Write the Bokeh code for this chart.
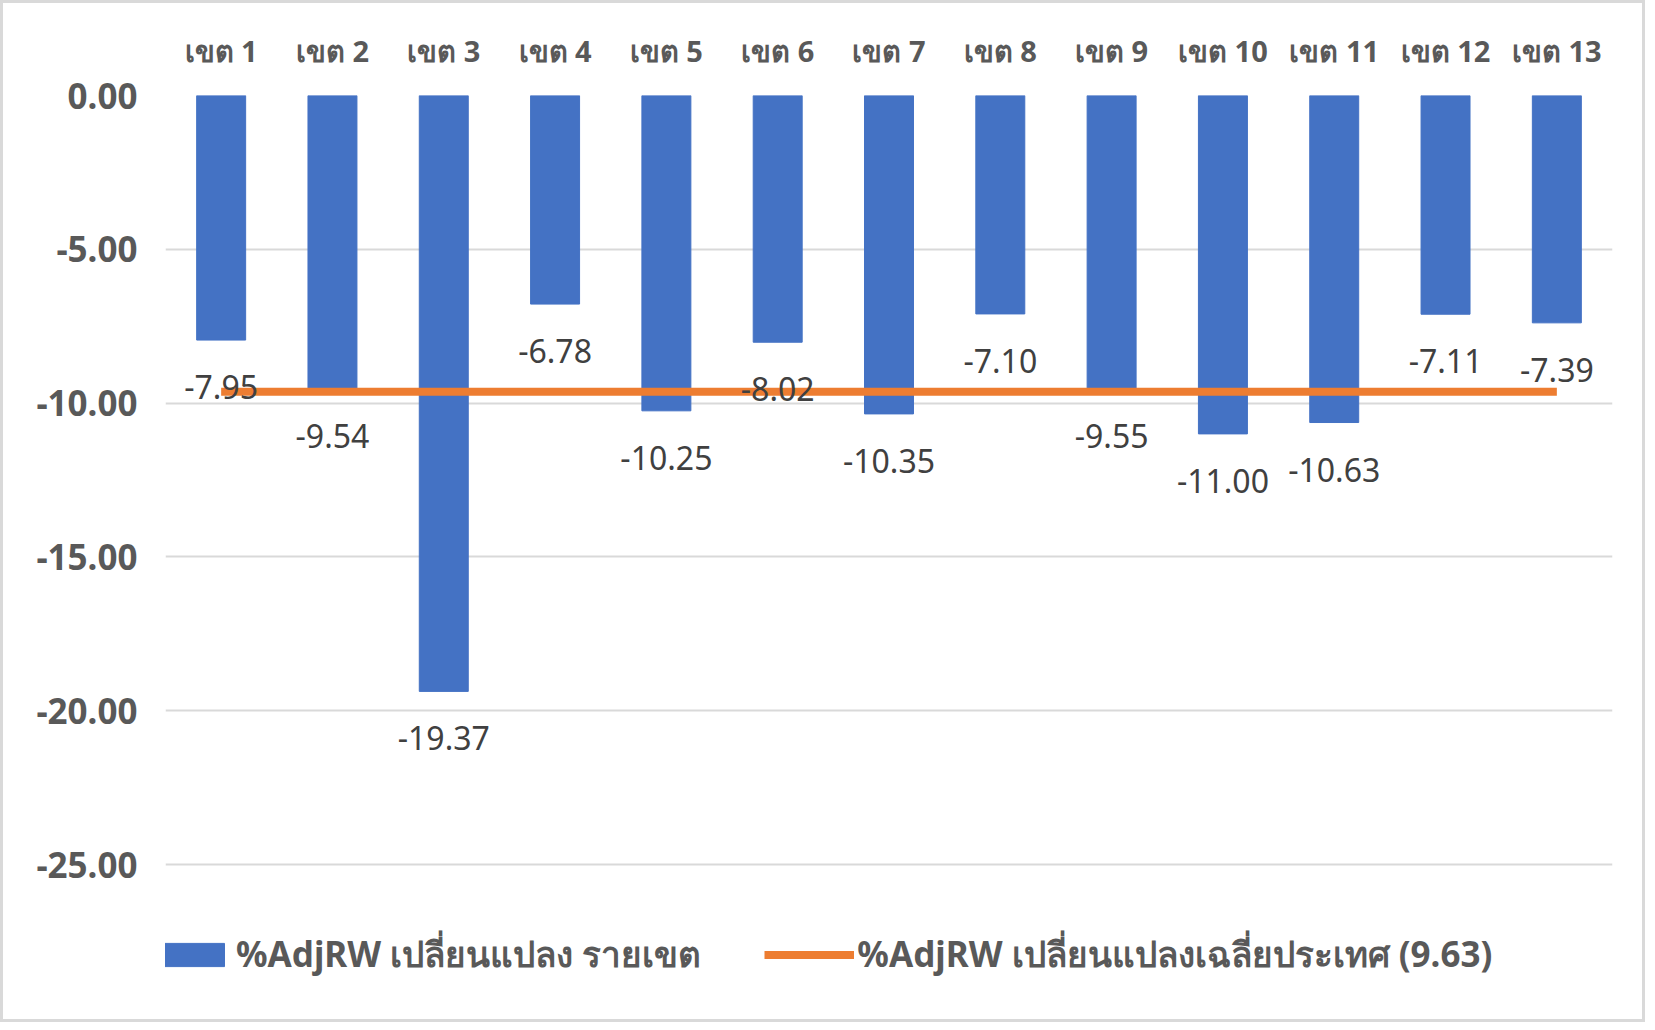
from bokeh.plotting import figure
from bokeh.models import ColumnDataSource, Legend, LegendItem, FactorRange, Range1d, NumeralTickFormatter, FixedTicker
from bokeh.embed import file_html
from bokeh.resources import INLINE
from bokeh.core.properties import value

categories = ["เขต 1", "เขต 2", "เขต 3", "เขต 4", "เขต 5", "เขต 6", "เขต 7",
              "เขต 8", "เขต 9", "เขต 10", "เขต 11", "เขต 12", "เขต 13"]
change_values = [-7.95, -9.54, -19.37, -6.78, -10.25, -8.02, -10.35,
                 -7.10, -9.55, -11.00, -10.63, -7.11, -7.39]
national_avg = [-9.63, -9.63, -9.63, -9.63, -9.63, -9.63, -9.63,
                -9.63, -9.63, -9.63, -9.63, -9.63, -9.63]
y_ticks = [0, -5, -10, -15, -20, -25]
series_names = ["%AdjRW เปลี่ยนแปลง รายเขต", "%AdjRW เปลี่ยนแปลงเฉลี่ยประเทศ (9.63)"]

source = ColumnDataSource(data=dict(
    cat=categories,
    val=change_values,
    avg=national_avg,
    label=["%.2f" % v for v in change_values],
))

BLUE = "#4472C4"
ORANGE = "#ED7D31"
GRAY = "#595959"
FONT = "Noto Sans"

# the plot frame runs below the last tick (-25) to leave room for the legend
p = figure(x_range=FactorRange(*categories, range_padding=0),
           y_range=Range1d(-29.97, 0),
           width=1645, height=1022,
           output_backend="svg", toolbar_location=None,
           x_axis_location="above",
           min_border_left=162, min_border_right=36,
           min_border_top=92, min_border_bottom=8)
p.styles = {"border": "3px solid #D9D9D9"}
p.outline_line_color = None
p.background_fill_color = "white"
p.border_fill_color = "white"

bars = p.vbar(x="cat", top="val", bottom=0, width=0.44, color=BLUE, source=source)
line = p.line(x="cat", y="avg", line_width=8, color=ORANGE, line_cap="butt", source=source)
p.text(x="cat", y="val", text="label", source=source, text_align="center",
       text_baseline="middle", y_offset=47, text_font_size="32px",
       text_color="#404040", text_font=value(FONT))

p.xgrid.grid_line_color = None
p.ygrid.ticker = FixedTicker(ticks=y_ticks)
p.ygrid.grid_line_color = "#D9D9D9"
p.ygrid.grid_line_width = 2

p.yaxis.ticker = FixedTicker(ticks=y_ticks)
p.yaxis.formatter = NumeralTickFormatter(format="0.00")
p.yaxis.axis_line_color = None
p.yaxis.major_tick_line_color = None
p.yaxis.minor_tick_line_color = None
p.yaxis.major_label_text_font = FONT
p.yaxis.major_label_text_font_style = "bold"
p.yaxis.major_label_text_font_size = "35px"
p.yaxis.major_label_text_color = GRAY
p.yaxis.major_label_standoff = 22

p.xaxis.axis_line_color = None
p.xaxis.major_tick_line_color = None
p.xaxis.minor_tick_line_color = None
p.xaxis.major_label_text_font = FONT
p.xaxis.major_label_text_font_style = "bold"
p.xaxis.major_label_text_font_size = "29px"
p.xaxis.major_label_text_color = GRAY
p.xaxis.major_label_standoff = 20

legend = Legend(items=[LegendItem(label=series_names[0], renderers=[bars]),
                       LegendItem(label=series_names[1], renderers=[line])],
                orientation="horizontal", location=(-22, 35),
                glyph_width=90, glyph_height=29, label_standoff=3, spacing=63,
                padding=0, margin=0, border_line_color=None,
                background_fill_alpha=0,
                label_text_font=FONT, label_text_font_size="35px",
                label_text_font_style="bold", label_text_color=GRAY)
p.add_layout(legend, "center")

open("out.html", "w").write(file_html(p, INLINE))
